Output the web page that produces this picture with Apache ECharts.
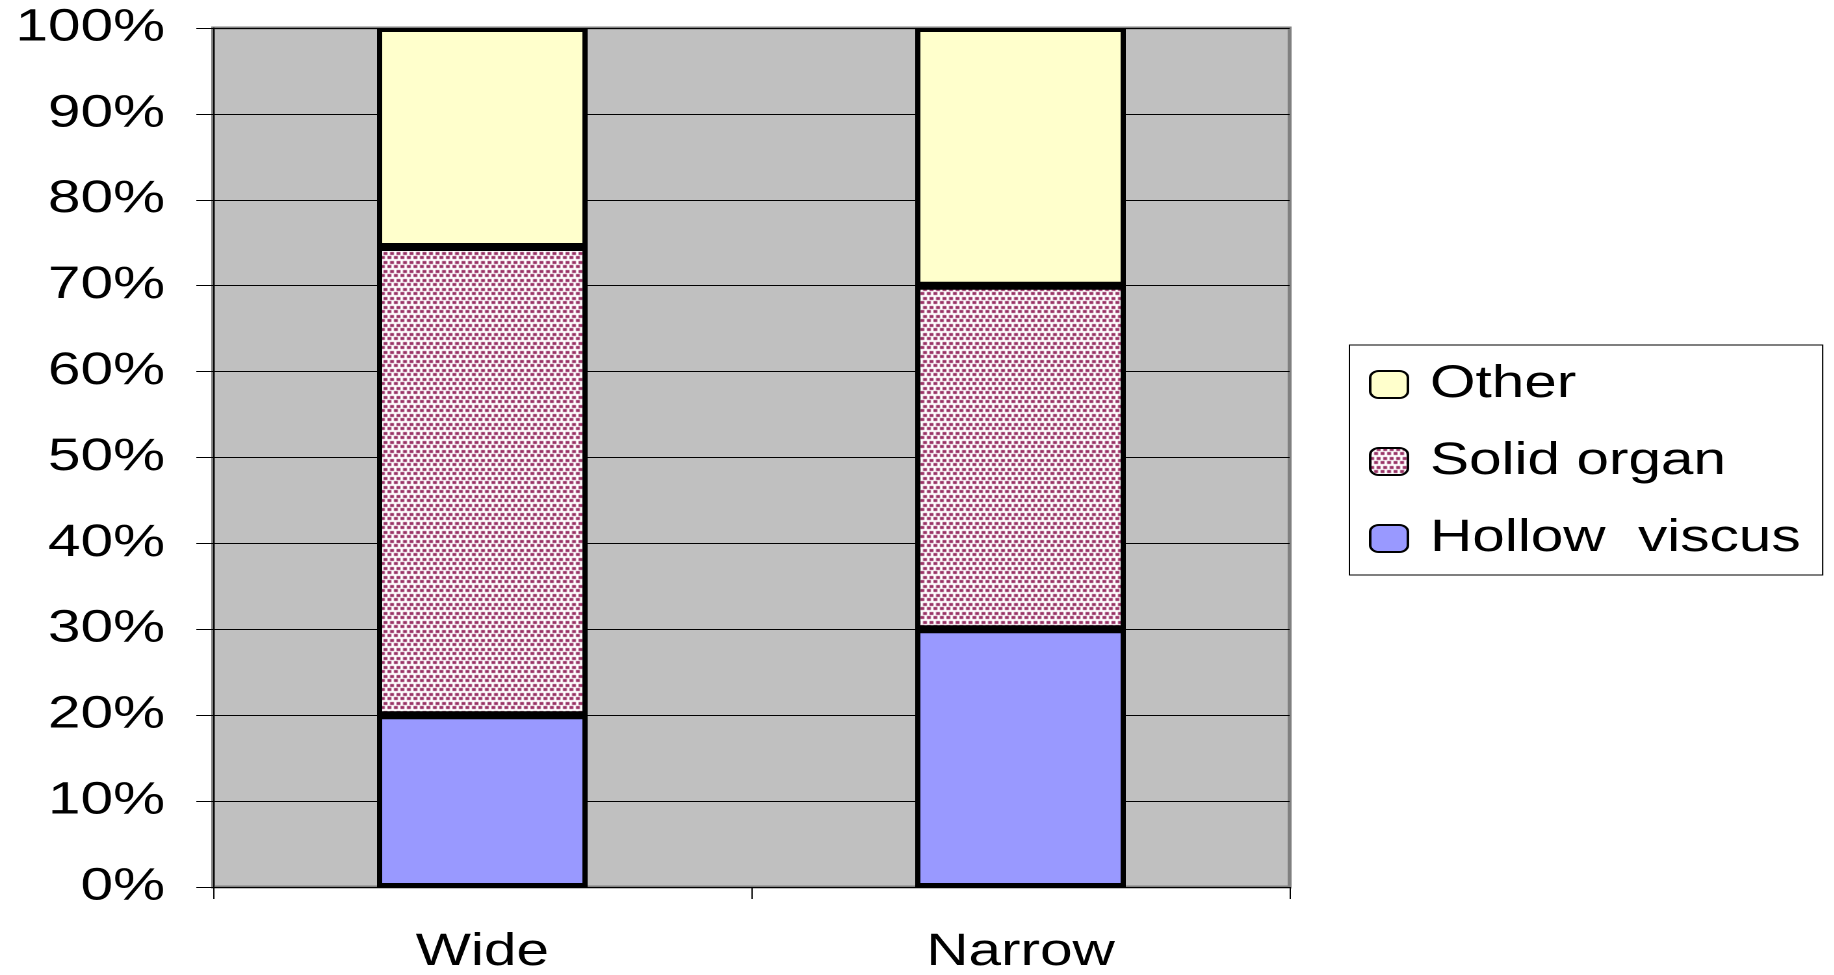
<!DOCTYPE html>
<html>
<head>
<meta charset="utf-8">
<script src="https://cdn.jsdelivr.net/npm/echarts@6/dist/echarts.min.js"></script>
<style>
html,body{margin:0;padding:0;background:#fff;overflow:hidden}
#wrap{width:1834px;height:975px;overflow:hidden}
#c{width:1411px;height:975px;transform:scaleX(1.3);transform-origin:0 0}
</style>
</head>
<body>
<div id="wrap"><div id="c"></div></div>
<script>
const categories = ['Wide', 'Narrow'];
const hollowViscus = [20, 30];
const solidOrgan = [54.5, 40];
const other = [25.5, 30];
const legendOrder = ['Other', 'Solid organ', 'Hollow viscus'];

function dotPattern() {
  const c = document.createElement('canvas');
  c.width = 5; c.height = 9;
  const g = c.getContext('2d');
  g.fillStyle = '#ffffff';
  g.fillRect(0, 0, 5, 9);
  g.fillStyle = '#993366';
  g.fillRect(0, 0, 3, 3);
  g.fillRect(3, 4, 2, 3);
  g.fillRect(0, 4, 1, 3);
  return c;
}

const FONT = 'Liberation Sans, Arial, sans-serif';
const chart = echarts.init(document.getElementById('c'), null, { devicePixelRatio: 2 });
const border = { borderColor: '#000', borderWidth: 4 };
chart.setOption({
  animation: false,
  backgroundColor: '#fff',
  grid: {
    left: 164, right: 419, top: 28, bottom: 84,
    show: true, backgroundColor: '#c0c0c0', borderColor: '#808080', borderWidth: 3
  },
  legend: {
    orient: 'vertical',
    left: 1038, top: 345,
    padding: [17, 17, 14, 15],
    data: legendOrder,
    formatter: function (name) { return name === 'Hollow viscus' ? 'Hollow  viscus' : name; },
    itemWidth: 29, itemHeight: 27, itemGap: 32,
    borderColor: '#000', borderWidth: 1,
    backgroundColor: '#fff',
    textStyle: { fontFamily: FONT, fontSize: 45, color: '#000', padding: [0, 0, 0, 12] }
  },
  xAxis: {
    type: 'category', data: categories,
    axisLine: { show: true, lineStyle: { color: '#000', width: 1 } },
    axisTick: { show: true, length: 12, lineStyle: { color: '#000' } },
    axisLabel: { fontFamily: FONT, fontSize: 45, color: '#000', margin: 43 },
    splitLine: { show: false }
  },
  yAxis: {
    type: 'value', min: 0, max: 100, interval: 10,
    axisLine: { show: true, lineStyle: { color: '#000', width: 1 } },
    axisTick: { show: true, length: 13, lineStyle: { color: '#000' } },
    axisLabel: { formatter: '{value}%', fontFamily: FONT, fontSize: 45, color: '#000', margin: 37 },
    splitLine: { show: true, lineStyle: { color: '#000', width: 1 } }
  },
  series: [
    { name: 'Hollow viscus', type: 'bar', stack: 'a', data: hollowViscus, barWidth: 162,
      itemStyle: Object.assign({ color: '#9999ff' }, border) },
    { name: 'Solid organ', type: 'bar', stack: 'a', data: solidOrgan, barWidth: 162,
      itemStyle: Object.assign({ color: { image: dotPattern(), repeat: 'repeat' } }, border) },
    { name: 'Other', type: 'bar', stack: 'a', data: other, barWidth: 162,
      itemStyle: Object.assign({ color: '#ffffcc' }, border) }
  ]
});
</script>
</body>
</html>
